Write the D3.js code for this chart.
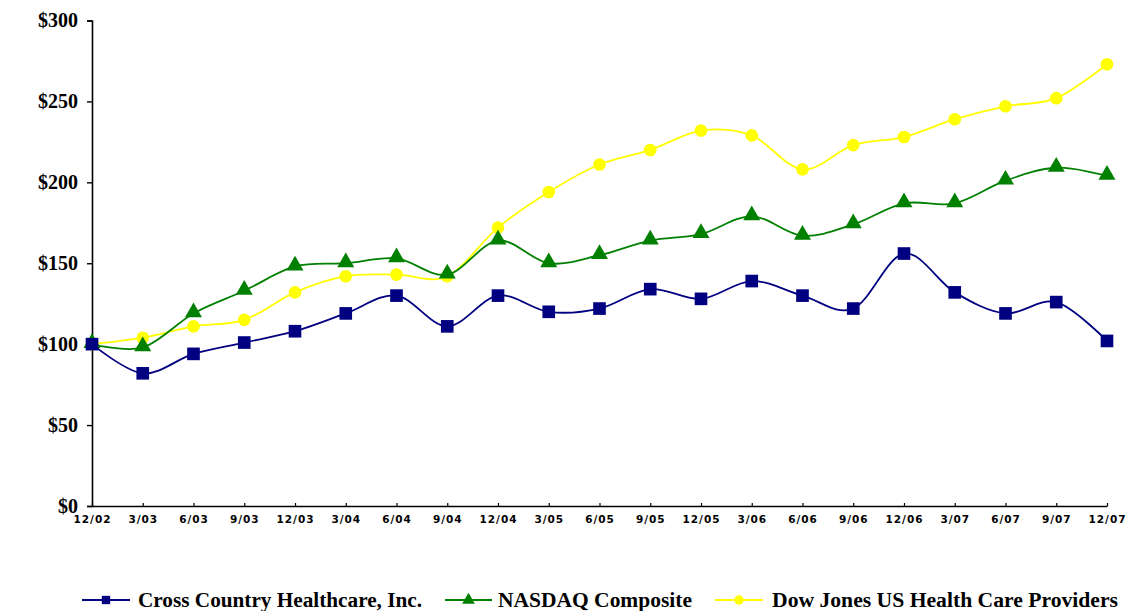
<!DOCTYPE html>
<html>
<head>
<meta charset="utf-8">
<script src="https://cdn.jsdelivr.net/npm/d3@7"></script>
<style>
  body { margin: 0; background: #fff; }
</style>
</head>
<body>
<div id="chart"></div>
<script>
// quarter labels along the x axis
const quarters = ["12/02", "3/03", "6/03", "9/03", "12/03", "3/04", "6/04", "9/04", "12/04", "3/05",
  "6/05", "9/05", "12/05", "3/06", "6/06", "9/06", "12/06", "3/07", "6/07", "9/07", "12/07"];

// values
const crossCountry = [100, 82, 94, 101, 108, 119, 130, 111, 130, 120, 122, 134, 128, 139, 130, 122, 156, 132, 119, 126, 102];
const nasdaq = [100, 98, 119, 133, 148, 150, 153, 143, 164, 150, 155, 164, 168, 179, 167, 174, 187, 187, 201, 209, 204];
const dowJones = [100, 104, 111, 115, 132, 142, 143, 142, 172, 194, 211, 220, 232, 229, 208, 223, 228, 239, 247, 252, 273];

const yTicks = [0, 50, 100, 150, 200, 250, 300];

const width = 1130;
const height = 611;
const margin = { left: 92, right: 1107, top: 20.5, bottom: 506 };

const svg = d3.select("#chart")
    .append("svg")
    .attr("width", width)
    .attr("height", height);

const x = d3.scalePoint()
    .domain(quarters)
    .range([margin.left, margin.right]);

const y = d3.scaleLinear()
    .domain([0, 300])
    .range([margin.bottom, margin.top]);

// y axis
const yAxis = svg.append("g")
    .attr("transform", `translate(${margin.left},0)`)
    .call(d3.axisLeft(y).tickValues(yTicks).tickSize(5).tickPadding(9).tickFormat(d => "$" + d));
yAxis.select(".domain").attr("stroke", "#000").attr("stroke-width", 1.6);
yAxis.selectAll(".tick line").attr("stroke", "#000").attr("stroke-width", 1.4);
yAxis.selectAll("text")
    .attr("font-family", "Liberation Serif, serif")
    .attr("font-weight", "bold")
    .attr("font-size", "20px")
    .attr("fill", "#000");

// x axis, ticks point up into the plot
const xAxis = svg.append("g")
    .attr("transform", `translate(0,${margin.bottom})`)
    .call(d3.axisBottom(x).tickSizeInner(-3).tickSizeOuter(0).tickPadding(10));
xAxis.select(".domain").attr("stroke", "#000").attr("stroke-width", 1.6);
xAxis.selectAll(".tick line").attr("stroke", "#000").attr("stroke-width", 1.2);
xAxis.selectAll("text")
    .attr("font-family", "DejaVu Sans, sans-serif")
    .attr("font-weight", "bold")
    .attr("font-size", "10.5px")
    .attr("letter-spacing", "1px")
    .attr("fill", "#000");

const series = [
  { name: "Cross Country Healthcare, Inc.", values: crossCountry, color: "#000080", shape: d3.symbolSquare, size: 160 },
  { name: "NASDAQ Composite", values: nasdaq, color: "#008000", shape: d3.symbolTriangle, size: 125 },
  { name: "Dow Jones US Health Care Providers", values: dowJones, color: "#ffff00", shape: d3.symbolCircle, size: 125 }
];

const line = d3.line()
    .curve(d3.curveCatmullRom.alpha(0))
    .x((d, i) => x(quarters[i]))
    .y(d => y(d));

// draw in reverse so the blue series sits on top
series.slice().reverse().forEach(s => {
  svg.append("path")
      .datum(s.values)
      .attr("d", line)
      .attr("fill", "none")
      .attr("stroke", s.color)
      .attr("stroke-width", 1.8);

  svg.append("g")
    .selectAll("path")
    .data(s.values)
    .join("path")
      .attr("transform", (d, i) => `translate(${x(quarters[i])},${y(d) + (s.shape === d3.symbolTriangle ? -1 : 0)})`)
      .attr("d", d3.symbol().type(s.shape).size(s.size))
      .attr("fill", s.color);
});

// legend
const legendItems = [
  { x1: 82, x2: 130, tx: 138, tw: 284 },
  { x1: 445, x2: 492, tx: 498, tw: 194 },
  { x1: 715, x2: 763, tx: 772, tw: 346 }
];
const legendY = 600;

series.forEach((s, i) => {
  const li = legendItems[i];
  const g = svg.append("g");
  g.append("line")
      .attr("x1", li.x1).attr("x2", li.x2)
      .attr("y1", legendY).attr("y2", legendY)
      .attr("stroke", s.color)
      .attr("stroke-width", 1.8);
  g.append("path")
      .attr("transform", `translate(${(li.x1 + li.x2) / 2},${legendY})`)
      .attr("d", d3.symbol().type(s.shape).size(70))
      .attr("fill", s.color);
  g.append("text")
      .attr("x", li.tx)
      .attr("y", legendY + 7)
      .attr("font-family", "Liberation Serif, serif")
      .attr("font-weight", "bold")
      .attr("font-size", "20px")
      .attr("textLength", li.tw)
      .attr("lengthAdjust", "spacingAndGlyphs")
      .attr("fill", "#000")
      .text(s.name);
});
</script>
</body>
</html>
